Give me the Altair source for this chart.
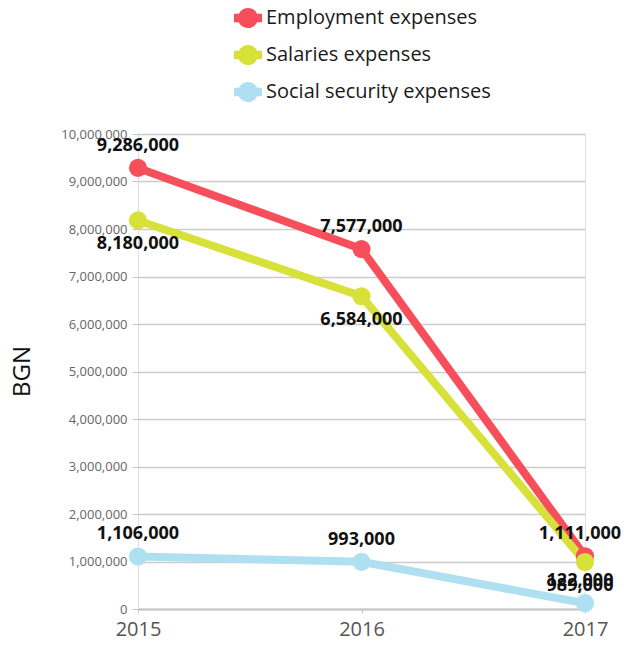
import altair as alt
import pandas as pd

years = ["2015", "2016", "2017"]
series = ["Employment expenses", "Salaries expenses", "Social security expenses"]
employment = [9286000, 7577000, 1111000]
salaries = [8180000, 6584000, 989000]
social = [1106000, 993000, 122000]
colors = ["#f64e5b", "#d8e03a", "#aee0f2"]
y_ticks = [0, 1000000, 2000000, 3000000, 4000000, 5000000, 6000000, 7000000, 8000000, 9000000, 10000000]

rows = []
for s, vals in zip(series, [employment, salaries, social]):
    for yr, v in zip(years, vals):
        rows.append({"year": yr, "series": s, "value": v})
df = pd.DataFrame(rows)

FONT = "Open Sans"
legend_symbol = ("M-1,-0.3H1V0.3H-1Z "
                 "M0.72,0A0.72,0.72 0 1,1 -0.72,0A0.72,0.72 0 1,1 0.72,0Z")

x_enc = alt.X("year:O", title=None,
              scale=alt.Scale(type="point", padding=0),
              axis=alt.Axis(labelAngle=0, labelFontSize=20, labelColor="#555555",
                            labelPadding=6, domainColor="#c4c4c4", domainWidth=2,
                            tickColor="#c4c4c4", tickSize=4, grid=False, labelFont=FONT))
y_enc = alt.Y("value:Q", title="BGN",
              scale=alt.Scale(domain=[0, 10000000], nice=False),
              axis=alt.Axis(values=y_ticks, format=",.0f", labelFontSize=13,
                            labelColor="#666666", labelPadding=5, tickSize=6,
                            tickColor="#c4c4c4", domain=False, gridColor="#cccccc",
                            gridWidth=1.5, titleFontSize=24, titleFontWeight="normal",
                            titleColor="#111111", titleX=-116, titleY=237,
                            titleAngle=-90, titleAlign="center", titleBaseline="middle",
                            labelFont=FONT, titleFont=FONT))
color_enc = alt.Color("series:N", sort=series,
                      scale=alt.Scale(domain=series, range=colors),
                      legend=alt.Legend(title=None, orient="none", legendX=96, legendY=-130,
                                        labelFontSize=20, labelColor="#1a1a1a",
                                        labelFont=FONT, symbolType=legend_symbol,
                                        symbolSize=784, symbolStrokeWidth=0,
                                        symbolOpacity=1, rowPadding=12, labelOffset=4,
                                        labelLimit=400, padding=0))

base = alt.Chart(df).encode(x=x_enc, y=y_enc, color=color_enc)
lines = base.mark_line(strokeWidth=8)
points = base.mark_circle(size=330, opacity=1)

offsets = {series[0]: -22, series[1]: 24, series[2]: -22}
texts = []
for s in series:
    for yr in years:
        t = alt.Chart(df).transform_filter(
            (alt.datum.series == s) & (alt.datum.year == yr)
        ).mark_text(
            dy=offsets[s], dx=(-5 if yr == "2017" else 0),
            fontSize=18, fontWeight="bold", font=FONT, color="#111111"
        ).encode(x=x_enc, y=y_enc, text=alt.Text("value:Q", format=",.0f"))
        texts.append(t)

chart = alt.layer(lines, points, *texts).properties(
    width=447, height=475,
    autosize=alt.AutoSizeParams(type="none"),
    padding={"left": 138, "top": 134, "right": 39, "bottom": 41},
).configure_view(stroke=None).configure(font=FONT)

chart.save("out.html", embed_options={"renderer": "svg", "actions": False})
